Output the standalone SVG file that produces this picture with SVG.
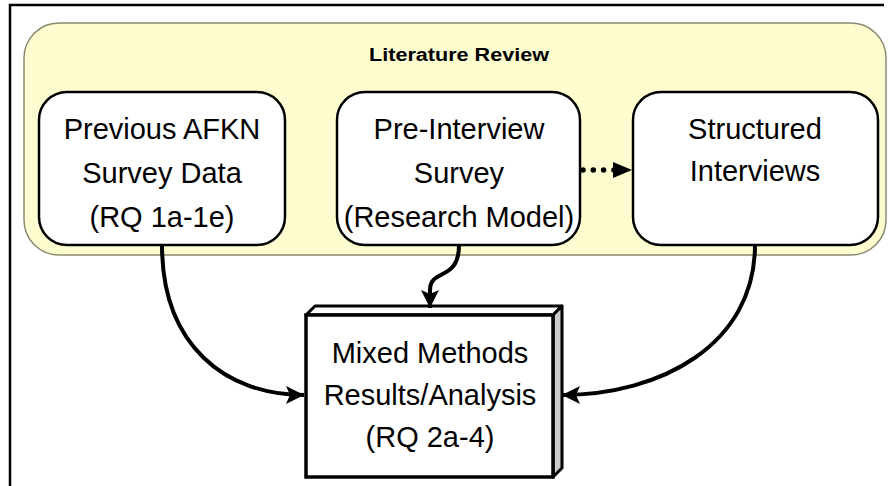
<svg xmlns="http://www.w3.org/2000/svg" width="888" height="486" viewBox="0 0 888 486">
<defs>
<style>
.box{fill:#ffffff;stroke:#000;stroke-width:2.5}
.t{font-family:"Liberation Sans",Arial,sans-serif;font-size:29px;fill:#000;text-anchor:middle}
.conn{fill:none;stroke:#000;stroke-width:4}
</style>
<marker id="ah" markerUnits="userSpaceOnUse" markerWidth="20" markerHeight="18" refX="18" refY="9" orient="auto" viewBox="0 0 20 18">
<path d="M0,0 L18,9 L0,18 L4,9 Z" fill="#000"/>
</marker>
</defs>
<rect width="888" height="486" fill="#fff"/>
<path d="M10,486 V5 H884" fill="none" stroke="#000" stroke-width="2.5"/>
<g id="literature-review">
<rect x="24" y="23" width="862" height="232" rx="35" fill="#fefdd0" stroke="#8a8a70" stroke-width="1.5"/>
<text x="459" y="61" font-family="Liberation Sans,Arial,sans-serif" font-size="18" font-weight="bold" text-anchor="middle" textLength="180" lengthAdjust="spacingAndGlyphs">Literature Review</text>
</g>
<g id="previous-afkn">
<rect class="box" x="39" y="92" width="246" height="153" rx="28"/>
<text class="t" x="162" y="139">Previous AFKN</text>
<text class="t" x="162" y="183">Survey Data</text>
<text class="t" x="162" y="227">(RQ 1a-1e)</text>
</g>
<g id="pre-interview">
<rect class="box" x="337" y="92" width="243" height="153" rx="28"/>
<text class="t" x="459" y="139">Pre-Interview</text>
<text class="t" x="459" y="183">Survey</text>
<text class="t" x="459" y="227">(Research Model)</text>
</g>
<g id="structured-interviews">
<rect class="box" x="633" y="92" width="245" height="153" rx="28"/>
<text class="t" x="755" y="139">Structured</text>
<text class="t" x="755" y="181">Interviews</text>
</g>
<g id="mixed-methods">
<polygon points="306,315 315,306 562,306 553,315" fill="#fff" stroke="#000" stroke-width="3" stroke-linejoin="round"/>
<polygon points="553,315 562,306 562,468 553,477" fill="#cccccc" stroke="#000" stroke-width="3" stroke-linejoin="round"/>
<rect x="306" y="315" width="247" height="162" fill="#fff" stroke="#000" stroke-width="3.5"/>
<text class="t" x="430" y="363">Mixed Methods</text>
<text class="t" x="430" y="405">Results/Analysis</text>
<text class="t" x="430" y="447">(RQ 2a-4)</text>
</g>
<g id="connectors">
<path class="conn" d="M162,245 C162,345 225,395 304,395" marker-end="url(#ah)"/>
<path class="conn" d="M755,245 C755,345 660,395 562,395" marker-end="url(#ah)"/>
<path class="conn" d="M459,245 C459,282 430,268 430,290 L430,308" marker-end="url(#ah)"/>
<path d="M583,170 L614,170" fill="none" stroke="#000" stroke-width="5.5" stroke-linecap="round" stroke-dasharray="0 10.3"/>
<polygon points="613,162 632,170 613,178" fill="#000"/>
</g>
</svg>
